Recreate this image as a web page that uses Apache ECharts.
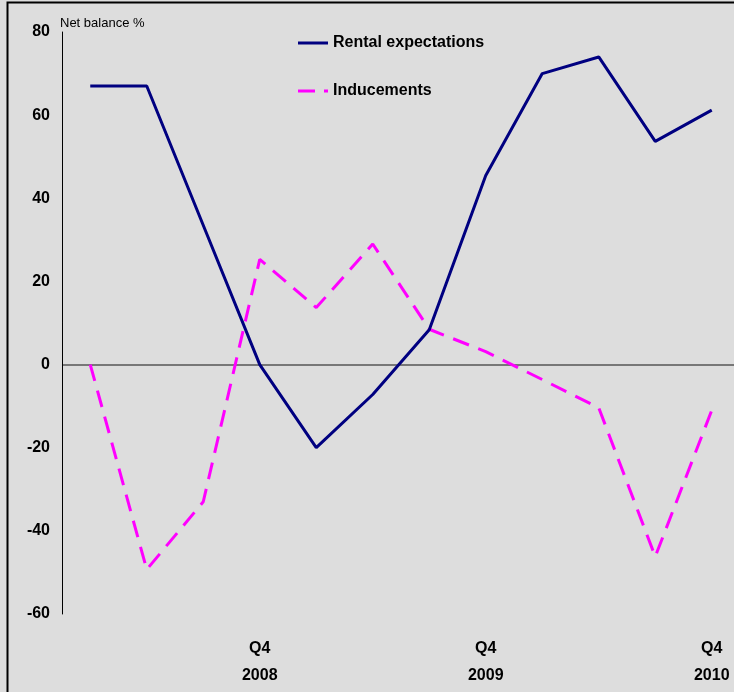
<!DOCTYPE html>
<html>
<head>
<meta charset="utf-8">
<script src="https://cdn.jsdelivr.net/npm/echarts@6/dist/echarts.min.js"></script>
<style>
  html, body { margin: 0; padding: 0; background: #dddddd; }
  #chart { width: 734px; height: 692px; }
</style>
</head>
<body>
<div id="chart"></div>
<script>
// Quarterly net balances, Q1 2008 to Q4 2010
const quarters = [
  'Q1\n2008', 'Q2\n2008', 'Q3\n2008', 'Q4\n2008',
  'Q1\n2009', 'Q2\n2009', 'Q3\n2009', 'Q4\n2009',
  'Q1\n2010', 'Q2\n2010', 'Q3\n2010', 'Q4\n2010'
];
const labelledQuarters = [3, 7, 11]; // Q4 of each year
const rentalExpectations = [67, 67, 33.5, 0, -20, -7.2, 8.4, 45.5, 70, 74, 53.7, 61.2];
const inducements = [0, -49.3, -33, 25.3, 13.7, 29, 8.5, 3.1, -3.6, -10.4, -46.2, -11];
const yTicks = { min: -60, max: 80, step: 20 };

const FONT = '"Liberation Sans", Arial, sans-serif';

// plot area: quarters are spaced evenly, the last one runs past the right edge
const gridLeft = 62;
const chartWidth = 734;
const slot = 56.5;
const xMin = -0.5;
const xMax = xMin + (chartWidth - gridLeft) / slot;

// only the zero line is drawn among the horizontal split lines
const splitColors = [];
for (let v = yTicks.min; v <= yTicks.max; v += yTicks.step) {
  splitColors.push(v === 0 ? '#555555' : 'rgba(0,0,0,0)');
}

const toPairs = (values) => values.map((v, i) => [i, v]);

const chart = echarts.init(document.getElementById('chart'), null, { renderer: 'canvas' });
chart.setOption({
  backgroundColor: '#dddddd',
  animation: false,
  grid: { left: gridLeft, top: 32, right: 0, bottom: 78, containLabel: false },
  legend: {
    orient: 'vertical',
    left: 293,
    top: 30,
    itemWidth: 30,
    itemHeight: 3,
    itemGap: 32,
    textStyle: { fontFamily: FONT, fontWeight: 'bold', fontSize: 16, color: '#000' },
    data: [
      { name: 'Rental expectations', icon: 'path://M0,0H30V3H0Z' },
      { name: 'Inducements', icon: 'path://M0,0H17V3H0Z M26,0H30V3H26Z' }
    ]
  },
  xAxis: {
    type: 'value',
    min: xMin,
    max: xMax,
    axisLine: { show: false },
    axisTick: { show: false },
    splitLine: { show: false },
    axisLabel: {
      customValues: labelledQuarters,
      formatter: (v) => quarters[Math.round(v)],
      margin: 21,
      fontFamily: FONT,
      fontWeight: 'bold',
      fontSize: 16,
      lineHeight: 27,
      color: '#000'
    }
  },
  yAxis: {
    type: 'value',
    min: yTicks.min,
    max: yTicks.max,
    interval: yTicks.step,
    name: 'Net balance %',
    nameLocation: 'end',
    nameGap: 9,
    nameTextStyle: { fontFamily: FONT, fontSize: 13, color: '#000', align: 'left', verticalAlign: 'middle', padding: [0, 0, 0, -2] },
    axisLine: { show: true, onZero: false, lineStyle: { color: '#000', width: 1 } },
    axisTick: { show: false },
    axisLabel: { margin: 12, fontFamily: FONT, fontWeight: 'bold', fontSize: 16, color: '#000' },
    splitLine: { show: true, lineStyle: { color: splitColors, width: 1.5 } }
  },
  series: [
    {
      name: 'Rental expectations',
      type: 'line',
      data: toPairs(rentalExpectations),
      symbol: 'none',
      lineStyle: { color: '#000080', width: 3 },
      itemStyle: { color: '#000080' },
      z: 3
    },
    {
      name: 'Inducements',
      type: 'line',
      data: toPairs(inducements),
      symbol: 'none',
      lineStyle: { color: '#ff00ff', width: 3, type: [17, 10] },
      itemStyle: { color: '#ff00ff' },
      z: 2
    }
  ],
  graphic: [
    {
      type: 'rect',
      left: 5,
      top: 0,
      shape: { x: 0, y: 0, width: 800, height: 800 },
      style: { fill: null, stroke: '#000', lineWidth: 2 },
      silent: true
    }
  ]
});
</script>
</body>
</html>
